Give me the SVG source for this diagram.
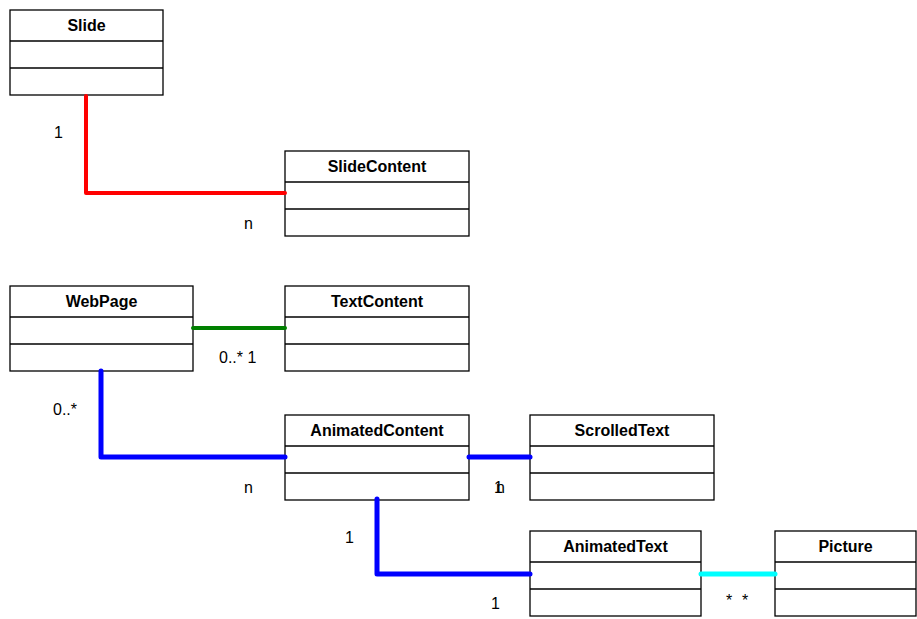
<svg xmlns="http://www.w3.org/2000/svg" width="917" height="619" viewBox="0 0 917 619">
  <style>
    .box { fill: #ffffff; stroke: #000000; stroke-width: 1.3; }
    .div { stroke: #000000; stroke-width: 1.3; }
    .title { font-family: "Liberation Sans", Arial, sans-serif; font-size: 16px; font-weight: bold; text-anchor: middle; fill: #000000; }
    .lbl { font-family: "Liberation Sans", Arial, sans-serif; font-size: 16px; fill: #000000; }
    .conn { fill: none; stroke-linecap: round; stroke-linejoin: round; }
  </style>
  <rect width="917" height="619" fill="#ffffff"/>

  <g id="Slide">
    <rect class="box" x="10" y="10" width="153" height="85"/>
    <line class="div" x1="10" y1="41" x2="163" y2="41"/>
    <line class="div" x1="10" y1="68" x2="163" y2="68"/>
    <text class="title" x="86.5" y="31">Slide</text>
  </g>
  <g id="SlideContent">
    <rect class="box" x="285" y="151" width="184" height="85"/>
    <line class="div" x1="285" y1="182" x2="469" y2="182"/>
    <line class="div" x1="285" y1="209" x2="469" y2="209"/>
    <text class="title" x="377" y="172">SlideContent</text>
  </g>
  <g id="WebPage">
    <rect class="box" x="10" y="286" width="183" height="85"/>
    <line class="div" x1="10" y1="317" x2="193" y2="317"/>
    <line class="div" x1="10" y1="344" x2="193" y2="344"/>
    <text class="title" x="101.5" y="307">WebPage</text>
  </g>
  <g id="TextContent">
    <rect class="box" x="285" y="286" width="184" height="85"/>
    <line class="div" x1="285" y1="317" x2="469" y2="317"/>
    <line class="div" x1="285" y1="344" x2="469" y2="344"/>
    <text class="title" x="377" y="307">TextContent</text>
  </g>
  <g id="AnimatedContent">
    <rect class="box" x="285" y="415" width="184" height="85"/>
    <line class="div" x1="285" y1="446" x2="469" y2="446"/>
    <line class="div" x1="285" y1="473" x2="469" y2="473"/>
    <text class="title" x="377" y="436">AnimatedContent</text>
  </g>
  <g id="ScrolledText">
    <rect class="box" x="530" y="415" width="184" height="85"/>
    <line class="div" x1="530" y1="446" x2="714" y2="446"/>
    <line class="div" x1="530" y1="473" x2="714" y2="473"/>
    <text class="title" x="622" y="436">ScrolledText</text>
  </g>
  <g id="AnimatedText">
    <rect class="box" x="530" y="531" width="171" height="85"/>
    <line class="div" x1="530" y1="562" x2="701" y2="562"/>
    <line class="div" x1="530" y1="589" x2="701" y2="589"/>
    <text class="title" x="615.5" y="552">AnimatedText</text>
  </g>
  <g id="Picture">
    <rect class="box" x="775" y="531" width="141" height="85"/>
    <line class="div" x1="775" y1="562" x2="916" y2="562"/>
    <line class="div" x1="775" y1="589" x2="916" y2="589"/>
    <text class="title" x="845.5" y="552">Picture</text>
  </g>

  <!-- associations, drawn over the class boxes -->
  <g id="connectors">
    <polyline class="conn" points="86,96 86,193 285,193" stroke="#ff0000" stroke-width="4"/>
    <line class="conn" x1="193" y1="328" x2="285" y2="328" stroke="#008000" stroke-width="4"/>
    <polyline class="conn" points="101,371 101,457 285,457" stroke="#0000ff" stroke-width="5"/>
    <line class="conn" x1="469" y1="457" x2="530" y2="457" stroke="#0000ff" stroke-width="5"/>
    <polyline class="conn" points="377,499 377,574 530,574" stroke="#0000ff" stroke-width="5"/>
    <line class="conn" x1="701" y1="574" x2="775" y2="574" stroke="#00ffff" stroke-width="5"/>
  </g>

  <!-- multiplicities -->
  <g id="labels">
    <text class="lbl" x="54" y="138">1</text>
    <text class="lbl" x="244" y="229">n</text>
    <text class="lbl" x="219" y="363">0..* 1</text>
    <text class="lbl" x="53" y="415">0..*</text>
    <text class="lbl" x="244" y="493">n</text>
    <text class="lbl" x="494" y="493">1</text>
    <text class="lbl" x="496" y="493">n</text>
    <text class="lbl" x="345" y="543">1</text>
    <text class="lbl" x="491" y="609">1</text>
    <text class="lbl" x="726" y="606">*</text>
    <text class="lbl" x="742" y="606">*</text>
  </g>
</svg>
